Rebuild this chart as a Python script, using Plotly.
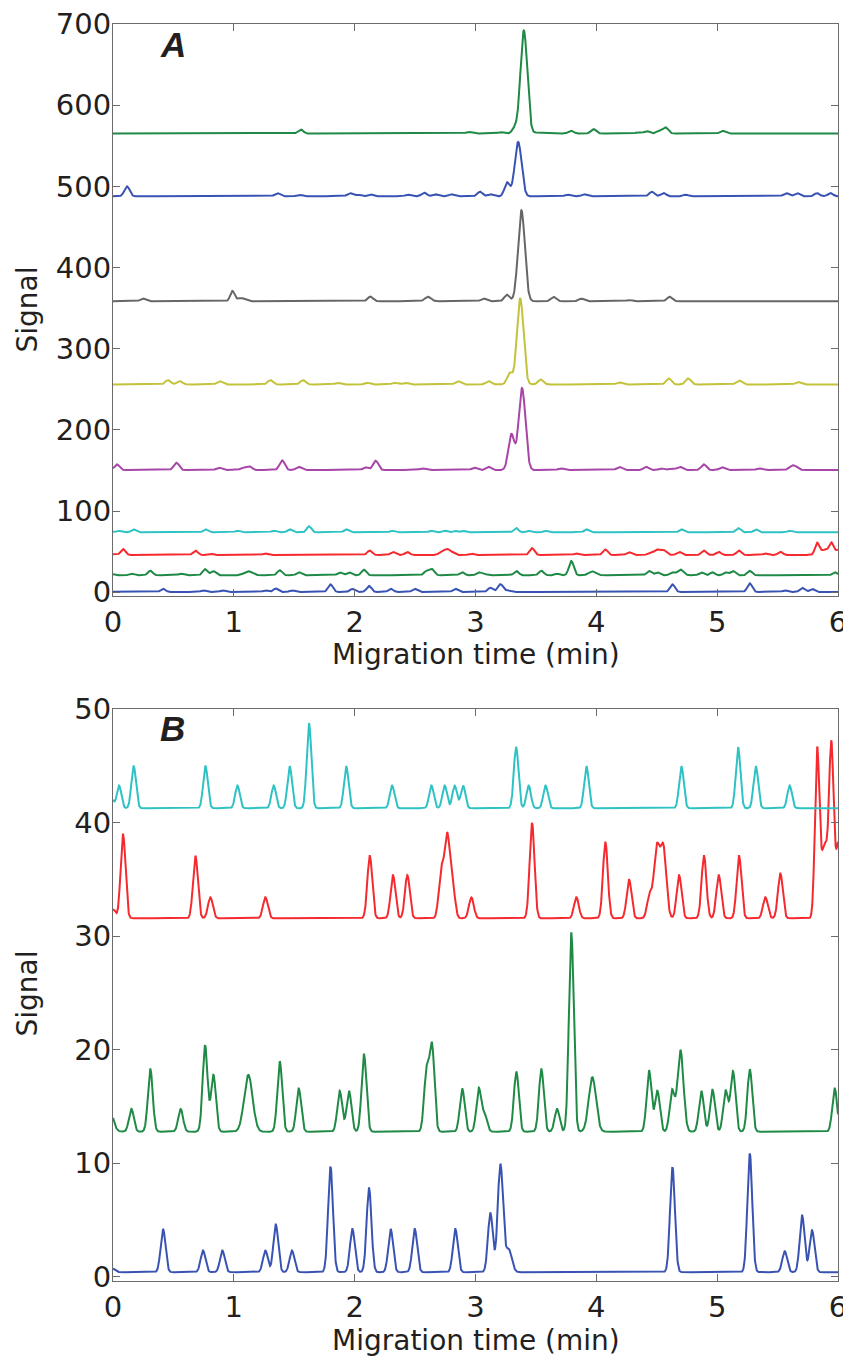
import numpy as np
import plotly.graph_objects as go

# ---------------- data (peak tables) ----------------
time_min, time_max = 0.0, 6.0
x_ticks = [0, 1, 2, 3, 4, 5, 6]
yA_ticks = [0, 100, 200, 300, 400, 500, 600, 700]
yB_ticks = [0, 10, 20, 30, 40, 50]

# lower four traces (shown in both panels)
blue_pos = [0.0, 0.414, 0.745, 0.905, 1.261, 1.347, 1.481, 1.80, 1.981, 2.119, 2.298, 2.497,
            2.833, 3.123, 3.206, 3.275, 4.63, 5.27, 5.559, 5.703, 5.785]
blue_hgt = [0.3, 3.8, 1.9, 1.9, 1.9, 4.2, 1.9, 9.3, 3.8, 7.4, 3.8, 3.8,
            3.8, 5.2, 9.5, 2.0, 9.25, 10.45, 1.85, 5.0, 3.7]
blue_sig = [0.02] * 13 + [0.02, 0.022, 0.025] + [0.02] * 5

green_pos = [-0.03, 0.152, 0.309, 0.56, 0.762, 0.831, 1.12, 1.38, 1.537, 1.876, 1.953, 2.077,
             2.594, 2.64, 2.89, 3.027, 3.076, 3.338, 3.545, 3.675, 3.793, 3.967, 4.436, 4.505,
             4.626, 4.696, 4.869, 4.961, 5.07, 5.131, 5.27, 5.973]
green_hgt = [2.0, 2.0, 5.5, 2.0, 7.6, 5.0, 5.0, 6.2, 3.8, 3.6, 3.6, 6.8,
             5.2, 7.5, 3.8, 3.8, 1.5, 5.3, 5.5, 2.0, 17.5, 4.8, 5.4, 3.6,
             3.6, 7.2, 3.6, 3.7, 3.6, 5.3, 5.5, 3.8]
green_sig = [0.03, 0.02, 0.02, 0.02, 0.02, 0.02, 0.035, 0.02, 0.02, 0.02, 0.02, 0.02,
             0.02, 0.02, 0.02, 0.02, 0.02, 0.02, 0.02, 0.02, 0.02, 0.03, 0.02, 0.02,
             0.02, 0.025, 0.02, 0.02, 0.02, 0.02, 0.02, 0.02]

red_pos = [0.0, 0.083, 0.682, 0.806, 1.261, 2.125, 2.317, 2.436, 2.715, 2.765, 2.81, 2.966,
           3.468, 3.835, 4.075, 4.271, 4.44, 4.50, 4.555, 4.685, 4.891, 5.013, 5.181, 5.399,
           5.523, 5.827, 5.89, 5.945, 6.01]
red_hgt = [0.8, 7.4, 5.5, 1.85, 1.85, 5.5, 3.8, 3.8, 4.0, 7.2, 2.8, 1.85,
           8.4, 1.85, 6.7, 3.4, 2.0, 6.1, 6.1, 3.8, 5.5, 3.8, 5.5, 1.85,
           3.95, 14.4, 6.5, 13.8, 7.0]
red_sig = [0.02] * 9 + [0.022] + [0.02] * 7 + [0.024, 0.024] + [0.02] * 6 + [0.018, 0.03, 0.018, 0.03]

cyan_pos = [-0.015, 0.05, 0.171, 0.765, 1.03, 1.33, 1.462, 1.622, 1.93, 2.31, 2.635, 2.745,
            2.828, 2.897, 3.336, 3.44, 3.58, 3.918, 4.704, 5.173, 5.32, 5.60]
cyan_hgt = [0.9, 2.0, 3.7, 3.7, 2.0, 2.0, 3.7, 7.5, 3.7, 2.0, 2.0, 2.0,
            2.0, 2.0, 5.4, 2.0, 2.0, 3.7, 3.7, 5.4, 3.7, 2.0]
cyan_sig = [0.019] * 22

# upper five traces (panel A only)
magenta_pos = [0.033, 0.525, 0.877, 1.076, 1.13, 1.40, 1.537, 2.09, 2.174, 2.56, 2.99, 3.11,
               3.297, 3.385, 3.705, 4.19, 4.414, 4.538, 4.62, 4.69, 4.89, 5.04, 5.347, 5.63]
magenta_hgt = [7, 9, 3, 3, 4.5, 12, 4, 3.5, 11.5, 2, 3, 4,
               44, 101, 2, 4, 4, 2, 2, 4, 7, 3.5, 2, 6]
magenta_sig = [0.022] * 12 + [0.025, 0.028] + [0.022] * 9 + [0.03]

yellow_pos = [0.455, 0.552, 0.883, 1.303, 1.573, 1.857, 2.11, 2.33, 2.42, 2.855, 3.11, 3.283,
              3.37, 3.54, 4.19, 4.60, 4.76, 5.18, 5.67]
yellow_hgt = [5.3, 4, 4, 5.3, 5.3, 2, 2, 2, 2, 4, 4, 14,
              106, 6, 2.5, 7.4, 7.4, 5, 3]
yellow_sig = [0.022] * 12 + [0.027] + [0.022] * 6

grey_pos = [0.248, 0.988, 1.06, 2.13, 2.607, 3.068, 3.26, 3.38, 3.647, 3.876, 4.27, 4.607]
grey_hgt = [3.3, 12.5, 4, 5.7, 5.5, 3.3, 8, 112, 5.3, 3.3, 1.5, 5.5]
grey_sig = [0.022, 0.018, 0.03, 0.022, 0.025, 0.022, 0.022, 0.028, 0.022, 0.022, 0.022, 0.022]

blue2_pos = [0.116, 1.36, 1.54, 1.96, 2.03, 2.13, 2.44, 2.575, 2.67, 2.80, 3.037, 3.126,
             3.262, 3.353, 3.76, 3.90, 4.46, 4.557, 4.74, 5.57, 5.66, 5.826, 5.937]
blue2_hgt = [12.3, 4, 2, 4, 2, 2.5, 2, 4.5, 2.5, 2.5, 5.7, 2.5,
             17, 67, 2, 2.5, 5.7, 4, 2, 4, 4, 4, 4]
blue2_sig = [0.022] * 13 + [0.028] + [0.022] * 9

green2_pos = [1.553, 2.944, 3.21, 3.325, 3.40, 3.51, 3.79, 3.978, 4.345, 4.416, 4.52, 4.574, 5.045]
green2_hgt = [5, 2, 1.8, 6.5, 127, 1.2, 3.5, 5.5, 1.5, 3, 3.5, 7.5, 3.4]
green2_sig = [0.022, 0.022, 0.022, 0.022, 0.028, 0.022, 0.022, 0.022, 0.022, 0.022, 0.022, 0.022, 0.022]

# baselines
base_A = {"blue": 0.4, "green": 20.9, "red": 45.9, "cyan": 73.8,
          "magenta": 150.5, "yellow": 256.0, "grey": 358.5, "blue2": 487.7, "green2": 565.0}
base_B = {"blue": 0.4, "green": 12.78, "red": 31.58, "cyan": 41.28}

colors = {"blue": "#3953b3", "green": "#1f8a45", "red": "#f52a2e", "cyan": "#2fc2c4",
          "magenta": "#a845a8", "yellow": "#c3c23b", "grey": "#666666",
          "blue2": "#3953b3", "green2": "#1f8a45"}

peaks = {
    "blue": (blue_pos, blue_hgt, blue_sig),
    "green": (green_pos, green_hgt, green_sig),
    "red": (red_pos, red_hgt, red_sig),
    "cyan": (cyan_pos, cyan_hgt, cyan_sig),
    "magenta": (magenta_pos, magenta_hgt, magenta_sig),
    "yellow": (yellow_pos, yellow_hgt, yellow_sig),
    "grey": (grey_pos, grey_hgt, grey_sig),
    "blue2": (blue2_pos, blue2_hgt, blue2_sig),
    "green2": (green2_pos, green2_hgt, green2_sig),
}

t = np.linspace(time_min, time_max, 3001)


def trace_signal(name, base):
    pos, hgt, sig = peaks[name]
    y = np.full_like(t, base)
    for p, h, s in zip(pos, hgt, sig):
        y += h * np.exp(-((t - p) ** 2) / (2 * s * s))
    return y


fig = go.Figure()
for name in ["blue", "green", "red", "cyan", "magenta", "yellow", "grey", "blue2", "green2"]:
    fig.add_trace(go.Scatter(x=t, y=trace_signal(name, base_A[name]), mode="lines",
                             line=dict(color=colors[name], width=2),
                             xaxis="x", yaxis="y", showlegend=False, hoverinfo="skip"))
for name in ["blue", "green", "red", "cyan"]:
    fig.add_trace(go.Scatter(x=t, y=trace_signal(name, base_B[name]), mode="lines",
                             line=dict(color=colors[name], width=2),
                             xaxis="x2", yaxis="y2", showlegend=False, hoverinfo="skip"))

FONT = "DejaVu Sans"
TXT = "#231f20"
axis_common = dict(showline=True, linecolor="#6b6b6b", linewidth=1.2, mirror="ticks",
                   ticks="inside", ticklen=7, tickcolor="#6b6b6b", tickwidth=1.2,
                   showgrid=False, zeroline=False, automargin=False,
                   ticklabeloverflow="allow",
                   tickfont=dict(family=FONT, size=29, color=TXT))

# the page body adds an 8 px offset, so the figure is 8 px smaller than the window
fig.update_layout(
    width=843, height=1349,
    margin=dict(l=105, r=13, t=16, b=76),
    paper_bgcolor="white", plot_bgcolor="white",
    xaxis=dict(domain=[0, 1], anchor="y", range=[time_min, time_max], tickvals=x_ticks,
               ticklabelstandoff=0, **axis_common),
    yaxis=dict(domain=[0.5452, 1], anchor="x", range=[-4.2, 700], tickvals=yA_ticks,
               ticklabelstandoff=-5, **axis_common),
    xaxis2=dict(domain=[0, 1], anchor="y2", range=[time_min, time_max], tickvals=x_ticks,
                ticklabelstandoff=0, **axis_common),
    yaxis2=dict(domain=[0, 0.4548], anchor="x2", range=[-0.38, 50], tickvals=yB_ticks,
                ticklabelstandoff=-5, **axis_common),
)

ann = []
for yc in [0.7725, 0.2283]:
    ann.append(dict(text="Signal", xref="paper", yref="paper", x=-0.1179, y=yc,
                    xanchor="center", yanchor="middle", textangle=-90, showarrow=False,
                    font=dict(family=FONT, size=28, color=TXT)))
for yt in [0.5131, -0.0326]:
    ann.append(dict(text="Migration time (min)", xref="paper", yref="paper", x=0.5006, y=yt,
                    xanchor="center", yanchor="top", showarrow=False,
                    font=dict(family=FONT, size=28, color=TXT)))
for lab, yc in [("A", 0.984), ("B", 0.4398)]:
    ann.append(dict(text="<b><i>%s</i></b>" % lab, xref="paper", yref="paper", x=0.0823, y=yc,
                    xanchor="center", yanchor="middle", showarrow=False,
                    font=dict(family="Liberation Sans", size=35, color=TXT)))
fig.update_layout(annotations=ann)

fig.write_html("out.html")
